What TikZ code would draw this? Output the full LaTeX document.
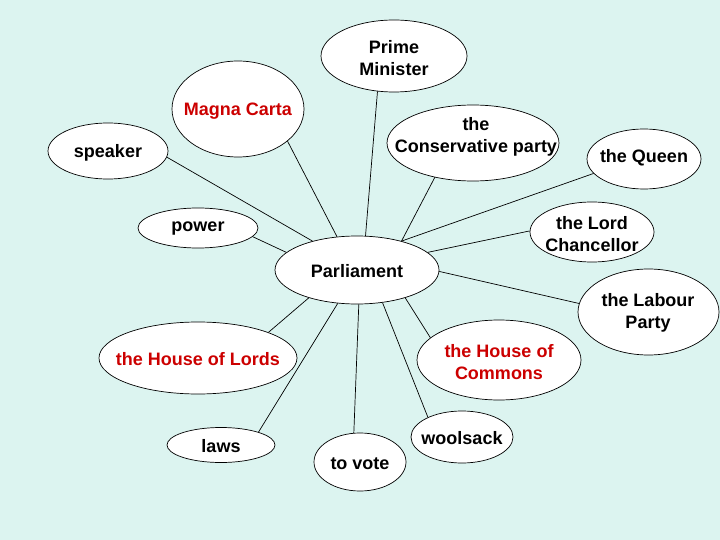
\documentclass[tikz,border=0pt]{standalone}
\usepackage{fontspec}
\setmainfont{Liberation Sans}
\usetikzlibrary{shapes.geometric}
\definecolor{bg}{RGB}{220,244,240}
\definecolor{txtred}{RGB}{204,0,0}
\begin{document}
\begin{tikzpicture}[x=1pt,y=-1pt,
  bubble/.style={ellipse, draw=black, fill=white, line width=0.7pt, inner sep=0pt},
  txt/.style={inner sep=0pt, align=center, yshift=-1pt, font=\bfseries\fontsize{18}{22}\selectfont},
  red/.style={text=txtred},
  link/.style={draw=black, line width=0.7pt}]
\fill[bg] (0,0) rectangle (720,540);
\useasboundingbox (0,0) rectangle (720,540);
% shapes
\node[bubble, minimum width=146, minimum height=72] (pm) at (394,56) {};
\node[bubble, minimum width=132, minimum height=96] (magna) at (238,109) {};
\node[bubble, minimum width=120, minimum height=56] (speaker) at (108,151) {};
\node[bubble, minimum width=120, minimum height=40] (power) at (198,228) {};
\node[bubble, minimum width=172, minimum height=76] (cons) at (473,143) {};
\node[bubble, minimum width=114, minimum height=60] (queen) at (644,159) {};
\node[bubble, minimum width=124, minimum height=60] (lord) at (592,232) {};
\node[bubble, minimum width=164, minimum height=68] (parl) at (357,270) {};
\node[bubble, minimum width=141, minimum height=86] (labour) at (648.5,312) {};
\node[bubble, minimum width=198, minimum height=72] (lords) at (198,358) {};
\node[bubble, minimum width=164, minimum height=80] (commons) at (499,360) {};
\node[bubble, minimum width=108, minimum height=35] (laws) at (221,445) {};
\node[bubble, minimum width=92, minimum height=58] (vote) at (360,462) {};
\node[bubble, minimum width=102, minimum height=52] (woolsack) at (462,437) {};
% texts
\node[txt] (pmT) at (394,57) {Prime\\Minister};
\node[txt, red] (magnaT) at (238,110) {Magna Carta};
\node[txt] (speakerT) at (108,152) {speaker};
\node[txt] (powerT) at (198,228) {power};
\node[txt] (consT) at (476,136) {the\\Conservative party};
\node[txt] (queenT) at (644,157) {the Queen};
\node[txt] (lordT) at (592,233) {the Lord\\Chancellor};
\node[txt] (parlT) at (357,270) {Parliament};
\node[txt] (labourT) at (648,312) {the Labour\\Party};
\node[txt, red] (lordsT) at (198,358) {the House of Lords};
\node[txt, red] (commonsT) at (499,361) {the House of\\Commons};
\node[txt] (lawsT) at (221,445) {laws};
\node[txt] (voteT) at (360,463) {to vote};
\node[txt] (woolsackT) at (462,437) {woolsack};
% connectors
\draw[link] (pm.245) -- (parl.76);
\draw[link] (magna.-33) -- (parl.121);
\draw[link] (speaker.-6) -- (parl.147);
\draw[link] (power.-9) -- (parl.166);
\draw[link] (cons.222) -- (parl.33);
\draw[link] (queen.196) -- (parl.33);
\draw[link] (lord.179) -- (parl.14);
\draw[link] (labour.173) -- (parl.-1);
\draw[link] (lords.20) -- (parl.210);
\draw[link] (laws.19) -- (parl.240);
\draw[link] (vote.102) -- (parl.273);
\draw[link] (woolsack.150) -- (parl.-52);
\draw[link] (commons.162) -- (parl.-30);
\end{tikzpicture}
\end{document}
